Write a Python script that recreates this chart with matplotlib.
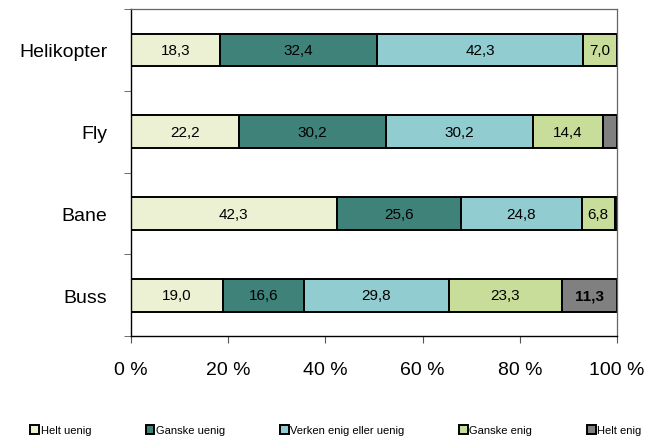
import numpy as np
import matplotlib.pyplot as plt
from matplotlib.ticker import FixedLocator

plt.rcParams['font.family'] = ['Liberation Sans', 'DejaVu Sans']

categories = ["Helikopter", "Fly", "Bane", "Buss"]
series = ["Helt uenig", "Ganske uenig", "Verken enig eller uenig", "Ganske enig", "Helt enig"]
values = np.array([
    [18.3, 32.4, 42.3, 7.0, 0.0],
    [22.2, 30.2, 30.2, 14.4, 3.0],
    [42.3, 25.6, 24.8, 6.8, 0.5],
    [19.0, 16.6, 29.8, 23.3, 11.3],
])
colours = ["#EBF1D2", "#3F8279", "#90CCD0", "#C8DD9A", "#808080"]
xticks = [0, 20, 40, 60, 80, 100]

fig = plt.figure(figsize=(6.65, 4.39), dpi=100)
ax = fig.add_axes([0.197, 0.232, 0.731, 0.745])

y = np.arange(len(categories))
left = np.zeros(len(categories))
for j, name in enumerate(series):
    ax.barh(y, values[:, j], left=left, height=0.4, color=colours[j],
            edgecolor="black", linewidth=1.4, label=name)
    for i in range(len(categories)):
        v = values[i, j]
        if v >= 5:
            ax.text(left[i] + v / 2, y[i], f"{v:.1f}".replace(".", ","),
                    ha="center", va="center", fontsize=11,
                    fontweight="bold" if j == 4 else "normal")
    left += values[:, j]

ax.set_xlim(0, 100)
ax.set_ylim(len(categories) - 0.5, -0.5)
ax.set_xticks(xticks)
ax.set_xticklabels([f"{t} %" for t in xticks], fontsize=14)
ax.set_yticks(y)
ax.set_yticklabels(categories, fontsize=14)
ax.yaxis.set_minor_locator(FixedLocator(np.arange(-0.5, len(categories), 1)))
ax.tick_params(axis="y", which="major", length=0, pad=17)
ax.tick_params(axis="y", which="minor", length=5, direction="out", color="#555555")
ax.tick_params(axis="x", length=5, direction="out", pad=13, color="#555555")

for s in ["left", "bottom"]:
    ax.spines[s].set_color("black")
    ax.spines[s].set_linewidth(1.0)
for s in ["top", "right"]:
    ax.spines[s].set_color("#666666")
    ax.spines[s].set_linewidth(0.9)

fig.legend(loc="center", bbox_to_anchor=(0.505, 0.018), ncol=5, frameon=False,
           fontsize=8, handlelength=0.8, handleheight=0.8, handletextpad=0.15,
           columnspacing=4.9)

fig.savefig("out.png", dpi=100)
